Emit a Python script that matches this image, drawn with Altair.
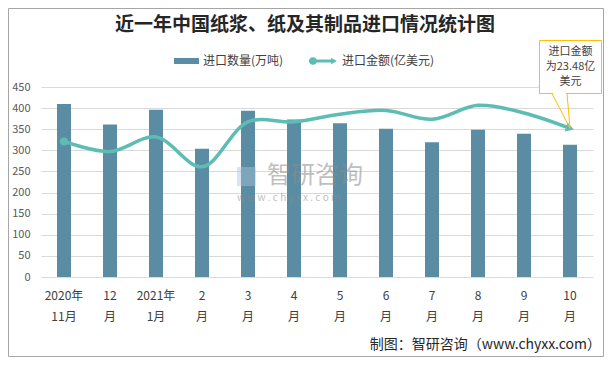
import altair as alt
import pandas as pd

months = ["2020年|11月", "12|月", "2021年|1月", "2|月", "3|月", "4|月",
          "5|月", "6|月", "7|月", "8|月", "9|月", "10|月"]
qty = [410, 361, 396, 304, 394, 373, 364, 351, 319, 349, 339, 313]
amount = [21.4, 19.8, 22.1, 17.4, 24.5, 24.5, 25.7, 26.3, 24.9, 27.1, 25.9, 23.48]
y_ticks = [0, 50, 100, 150, 200, 250, 300, 350, 400, 450]

FONT = "Noto Sans CJK SC"
BAR = "#5A8CA3"
TEAL = "#5DBDB4"
GOLD = "#FFC000"

df = pd.DataFrame({"month": months, "qty": qty, "amount": amount})
anno = pd.DataFrame({"t": [0]})

x = alt.X("month:N", sort=None,
          scale=alt.Scale(domain=months, paddingInner=0, paddingOuter=0),
          axis=alt.Axis(title=None, labelAngle=0, labelExpr="split(datum.label, '|')",
                        labelLineHeight=21, labelPadding=13, labelFontSize=12,
                        labelColor="#404040", ticks=False, domain=False))
y_sec = alt.Y("amount:Q", scale=alt.Scale(domain=[0, 30]), axis=None)

bars = alt.Chart(df).mark_bar(size=14, color=BAR).encode(
    x=x,
    y=alt.Y("qty:Q", scale=alt.Scale(domain=[0, 450]),
            axis=alt.Axis(values=y_ticks, title=None, grid=True, gridColor="#D9D9D9",
                          ticks=False, domain=False, labelPadding=11, labelFontSize=11,
                          labelColor="#595959")),
)

line = alt.Chart(df).mark_line(interpolate="catmull-rom", color=TEAL, strokeWidth=3.5).encode(
    x=x, y=y_sec)
start = alt.Chart(df.iloc[[0]]).mark_point(filled=True, size=65, color=TEAL, opacity=1).encode(
    x=x, y=y_sec)
end = alt.Chart(df.iloc[[-1]]).mark_point(shape="triangle-right", angle=18, filled=True,
                                          size=90, color=TEAL, opacity=1).encode(x=x, y=y_sec)


def txt(text, px, py, **kw):
    return alt.Chart(anno).mark_text(text=text, font=FONT, **kw).encode(
        x=alt.value(px), y=alt.value(py))


def box(x1, y1, x2, y2, **kw):
    return alt.Chart(anno).mark_rect(**kw).encode(
        x=alt.value(x1), y=alt.value(y1), x2=alt.value(x2), y2=alt.value(y2))


# watermark
wm_icon = box(196, 80, 215, 99, fill="#A9C4E0", opacity=0.45)
wm_text = txt("智研咨询", 226, 89, align="left", baseline="middle", fontSize=24,
              color="#8C8C8C", opacity=0.55)
wm_url = txt("w w w . c h y x x . c o m", 196, 111, align="left", baseline="middle",
             fontSize=10, color="#8C8C8C", opacity=0.55)

# callout
call_box = box(498.5, -46.5, 560.5, 6.5, fill="white", stroke=GOLD, strokeWidth=1)
call_gap = alt.Chart(anno).mark_rule(color="white", strokeWidth=2).encode(
    x=alt.value(512), x2=alt.value(525), y=alt.value(6.5), y2=alt.value(6.5))
oct_df = df.iloc[[-1]]
ptr1 = alt.Chart(oct_df).mark_rule(color=GOLD, strokeWidth=1).encode(
    x=x, y=y_sec, x2=alt.value(511), y2=alt.value(6.5))
ptr2 = alt.Chart(oct_df).mark_rule(color=GOLD, strokeWidth=1).encode(
    x=x, y=y_sec, x2=alt.value(526), y2=alt.value(6.5))
call_t1 = txt("进口金额", 529.5, -35, align="center", baseline="middle", fontSize=11, color="#404040")
call_t2 = txt("为23.48亿", 529.5, -20, align="center", baseline="middle", fontSize=11, color="#404040")
call_t3 = txt("美元", 529.5, -5, align="center", baseline="middle", fontSize=11, color="#404040")

# legend
leg_bar = box(133, -29, 158, -23, fill=BAR)
leg_bar_t = txt("进口数量(万吨)", 162, -26, align="left", baseline="middle", fontSize=12,
                color="#404040")
leg_line = alt.Chart(anno).mark_rule(color=TEAL, strokeWidth=3).encode(
    x=alt.value(268), x2=alt.value(292), y=alt.value(-26), y2=alt.value(-26))
leg_dot = alt.Chart(anno).mark_point(filled=True, size=55, color=TEAL, opacity=1).encode(
    x=alt.value(272), y=alt.value(-26))
leg_arrow = alt.Chart(anno).mark_point(shape="triangle-right", filled=True, size=45,
                                       color=TEAL, opacity=1).encode(
    x=alt.value(293), y=alt.value(-26))
leg_line_t = txt("进口金额(亿美元)", 301, -26, align="left", baseline="middle", fontSize=12,
                 color="#404040")

title = txt("近一年中国纸浆、纸及其制品进口情况统计图", 264, -62, align="center",
            baseline="middle", fontSize=19, fontWeight="bold", color="#262626")
footer = txt("制图：智研咨询（www.chyxx.com）", 560, 258, align="right", baseline="middle",
             fontSize=14, color="#262626")
border = box(-32.5, -78.5, 562.5, 269.5, fill="transparent", stroke="#A6A6A6", strokeWidth=1)

chart = alt.layer(
    bars, line, start, end, wm_icon, wm_text, wm_url,
    call_box, call_gap, ptr1, ptr2, call_t1, call_t2, call_t3,
    leg_bar, leg_bar_t, leg_line, leg_dot, leg_arrow, leg_line_t,
    title, footer, border,
).resolve_scale(y="independent").properties(
    width=552, height=190,
    padding={"left": 33, "top": 79, "right": 11, "bottom": 80},
    autosize=alt.AutoSizeParams(type="none"),
).configure(font=FONT, background="white", view=alt.ViewConfig(stroke=None))

chart.save("out.html", embed_options={"renderer": "svg", "actions": False})
